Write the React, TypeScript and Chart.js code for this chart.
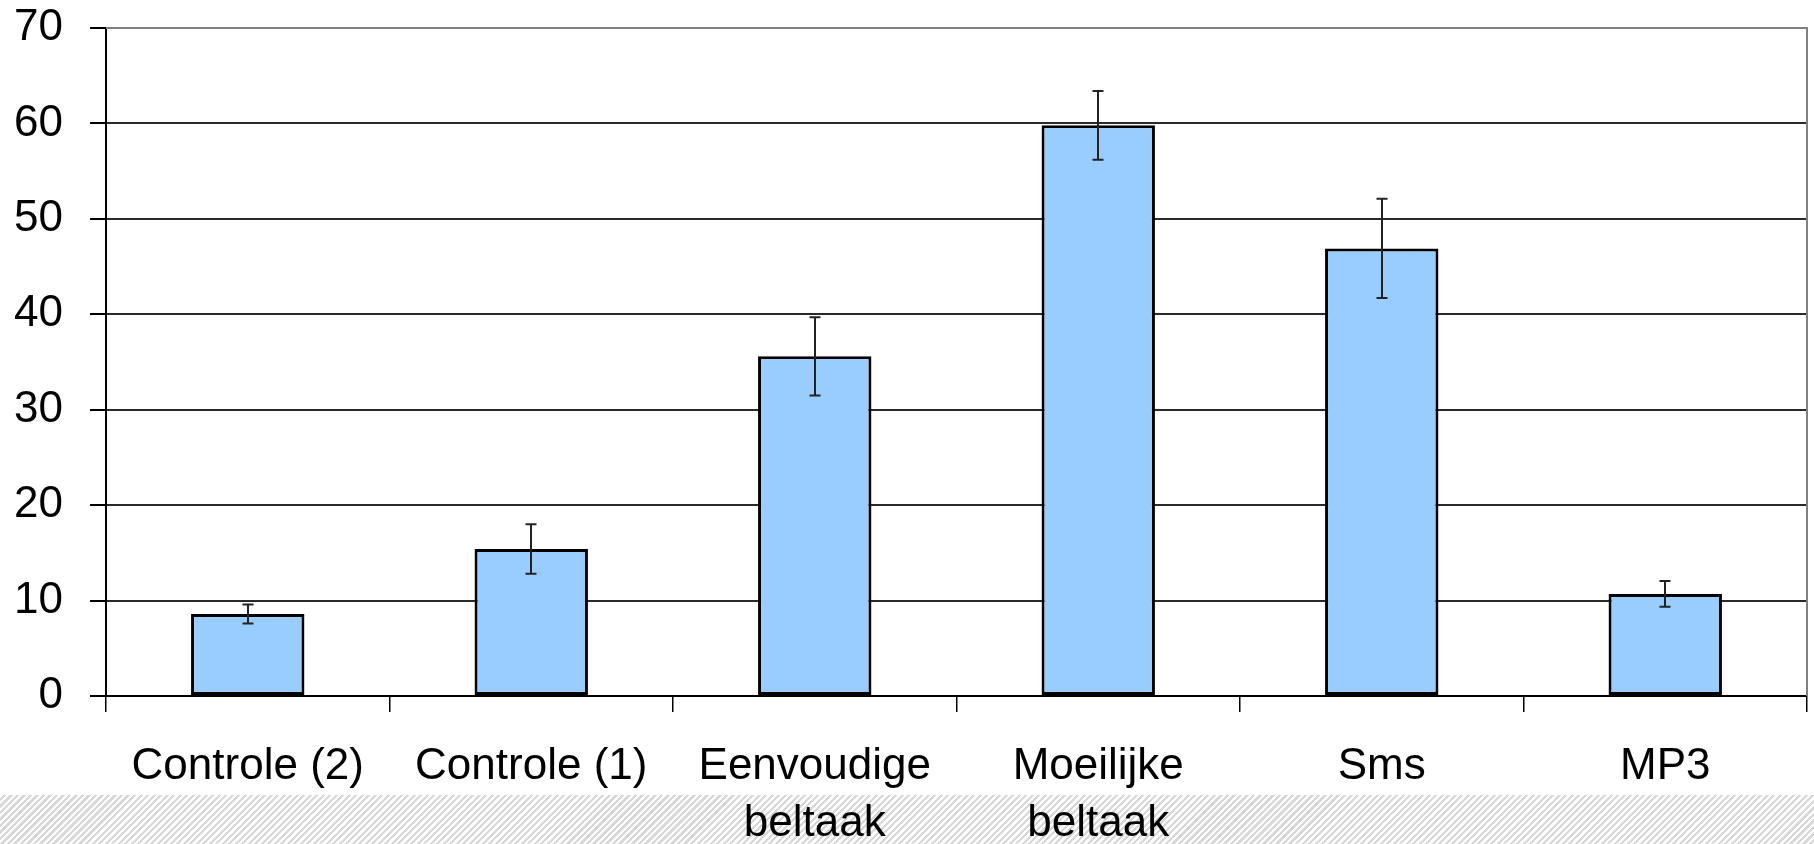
import React, { useEffect, useRef } from "react";
import { Chart, registerables } from "chart.js";

Chart.register(...registerables);

const categories: (string | string[])[] = [
  "Controle (2)",
  "Controle (1)",
  ["Eenvoudige", "beltaak"],
  ["Moeilijke", "beltaak"],
  "Sms",
  "MP3",
];
const values = [8.6, 15.4, 35.6, 59.8, 46.9, 10.7];
const errors = [1.0, 2.6, 4.1, 3.6, 5.2, 1.35];
const yTicks = [0, 10, 20, 30, 40, 50, 60, 70];

const FONT = '"Liberation Sans", Arial, sans-serif';

const errorBarPlugin = {
  id: "errorBars",
  afterDatasetsDraw(chart: any) {
    const meta = chart.getDatasetMeta(0);
    const yScale = chart.scales.y;
    const ctx = chart.ctx;
    ctx.save();
    ctx.strokeStyle = "#222";
    ctx.lineWidth = 2;
    meta.data.forEach((bar: any, i: number) => {
      const x = Math.round(bar.x);
      const top = yScale.getPixelForValue(values[i] + errors[i]);
      const bot = yScale.getPixelForValue(values[i] - errors[i]);
      const cap = 5.5;
      ctx.beginPath();
      ctx.moveTo(x, top);
      ctx.lineTo(x, bot);
      ctx.moveTo(x - cap, top);
      ctx.lineTo(x + cap, top);
      ctx.moveTo(x - cap, bot);
      ctx.lineTo(x + cap, bot);
      ctx.stroke();
    });
    ctx.restore();
  },
};

const borderPlugin = {
  id: "plotBorder",
  afterDraw(chart: any) {
    const { ctx, chartArea } = chart;
    ctx.save();
    ctx.strokeStyle = "#808080";
    ctx.lineWidth = 2;
    ctx.beginPath();
    ctx.moveTo(chartArea.left, chartArea.top);
    ctx.lineTo(chartArea.right, chartArea.top);
    ctx.lineTo(chartArea.right, chartArea.bottom);
    ctx.stroke();
    ctx.restore();
  },
};

export default function App() {
  const canvasRef = useRef<HTMLCanvasElement | null>(null);

  useEffect(() => {
    if (!canvasRef.current) return;
    const chart = new Chart(canvasRef.current, {
      type: "bar",
      data: {
        labels: categories,
        datasets: [
          {
            data: values,
            backgroundColor: "#99CCFF",
            borderColor: "#000",
            borderWidth: 3,
            borderSkipped: false,
            barPercentage: 0.4,
            categoryPercentage: 1,
          },
        ],
      },
      options: {
        animation: false,
        responsive: true,
        maintainAspectRatio: false,
        layout: { padding: { top: 28, right: 7, left: 0, bottom: 0 } },
        plugins: {
          legend: { display: false },
          tooltip: { enabled: false },
        },
        scales: {
          x: {
            afterFit: (scale: any) => {
              scale.height = 148;
              scale.paddingLeft = 0;
              scale.paddingRight = 0;
            },
            grid: {
              display: true,
              drawOnChartArea: false,
              drawTicks: true,
              tickLength: 16,
              color: "#000",
              lineWidth: 1.5,
              offset: true,
            },
            border: { color: "#000", width: 2 },
            ticks: {
              color: "#000",
              padding: 26,
              maxRotation: 0,
              autoSkip: false,
              font: { family: FONT, size: 44, lineHeight: 1.3 },
            },
          },
          y: {
            min: 0,
            max: 70,
            afterFit: (scale: any) => {
              scale.width = 106;
              scale.paddingTop = 0;
              scale.paddingBottom = 0;
            },
            afterBuildTicks: (scale: any) => {
              scale.ticks = yTicks.map((v) => ({ value: v }));
            },
            grid: {
              color: (c: any) => (c.tick && c.tick.value === 70 ? "#808080" : "#2a2a2a"),
              lineWidth: 2,
              tickLength: 16,
              tickColor: "#000",
            },
            border: { color: "#000", width: 2 },
            ticks: {
              color: "#000",
              padding: 27,
              font: { family: FONT, size: 44 },
            },
          },
        },
      },
      plugins: [errorBarPlugin, borderPlugin],
    });
    return () => chart.destroy();
  }, []);

  return (
    <div
      style={{
        position: "fixed",
        left: 0,
        top: 0,
        width: 1814,
        height: 844,
        overflow: "hidden",
        background: "#fff",
      }}
    >
      <div
        style={{
          position: "absolute",
          left: 0,
          top: 795,
          width: 1814,
          height: 49,
          background:
            "repeating-linear-gradient(135deg, #ffffff 0px, #ffffff 2.4px, #d8d8d8 2.4px, #d8d8d8 4.6px)",
        }}
      />
      <div style={{ position: "absolute", left: 0, top: 0, width: 1814, height: 844 }}>
        <canvas ref={canvasRef} />
      </div>
    </div>
  );
}
